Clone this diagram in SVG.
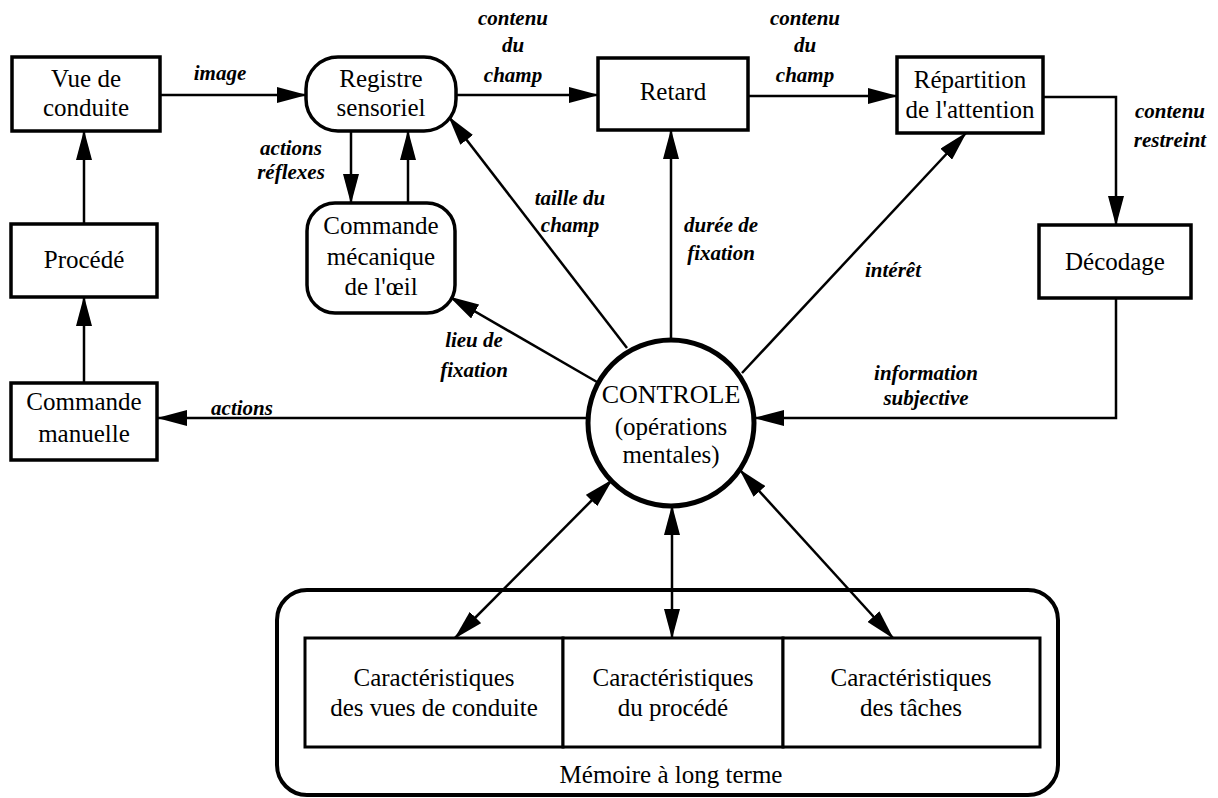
<svg xmlns="http://www.w3.org/2000/svg" width="1218" height="798" viewBox="0 0 1218 798" font-family="Liberation Serif, Tinos, DejaVu Serif, Times New Roman, Times, serif">
<style>
.box{fill:#fff;stroke:#000;stroke-width:3.5}
.t{font-size:25px;text-anchor:middle;fill:#000}
.l{font-size:21px;font-style:italic;font-weight:bold;text-anchor:middle;fill:#000}
.c{fill:none;stroke:#000;stroke-width:2.5}
</style>
<defs>
<marker id="ah" viewBox="0 0 30 16" refX="29" refY="8" markerWidth="30" markerHeight="16" markerUnits="userSpaceOnUse" orient="auto-start-reverse">
<path d="M0,0 L30,8 L0,16 z" fill="#000"/>
</marker>
</defs>
<rect width="1218" height="798" fill="#fff"/>
<g id="connectors">
<line class="c" x1="84" y1="224" x2="84" y2="131" marker-end="url(#ah)"/>
<line class="c" x1="84" y1="383" x2="84" y2="297" marker-end="url(#ah)"/>
<line class="c" x1="160" y1="95" x2="306" y2="95" marker-end="url(#ah)"/>
<line class="c" x1="351" y1="131" x2="351" y2="203" marker-end="url(#ah)"/>
<line class="c" x1="408" y1="203" x2="408" y2="131" marker-end="url(#ah)"/>
<line class="c" x1="456" y1="95" x2="598" y2="95" marker-end="url(#ah)"/>
<line class="c" x1="748" y1="96" x2="897" y2="96" marker-end="url(#ah)"/>
<path class="c" d="M1043,97 H1116 V225" marker-end="url(#ah)"/>
<path class="c" d="M1116,298 V418 H755" marker-end="url(#ah)"/>
<line class="c" x1="588" y1="418" x2="158" y2="418" marker-end="url(#ah)"/>
<line class="c" x1="597" y1="382" x2="450" y2="297" marker-end="url(#ah)"/>
<line class="c" x1="627" y1="348" x2="449" y2="117" marker-end="url(#ah)"/>
<line class="c" x1="671" y1="340" x2="671" y2="130" marker-end="url(#ah)"/>
<line class="c" x1="742" y1="373" x2="966" y2="133" marker-end="url(#ah)"/>
<line class="c" x1="612" y1="480" x2="455" y2="638" marker-start="url(#ah)" marker-end="url(#ah)"/>
<line class="c" x1="672" y1="506" x2="672" y2="638" marker-start="url(#ah)" marker-end="url(#ah)"/>
<line class="c" x1="740" y1="470" x2="893" y2="638" marker-start="url(#ah)" marker-end="url(#ah)"/>
<text class="l" x="220" y="80">image</text>
<text class="l" x="513" y="25">contenu</text>
<text class="l" x="513" y="52">du</text>
<text class="l" x="513" y="82">champ</text>
<text class="l" x="805" y="25">contenu</text>
<text class="l" x="805" y="52">du</text>
<text class="l" x="805" y="82">champ</text>
<text class="l" x="1170" y="118">contenu</text>
<text class="l" x="1170" y="147">restreint</text>
<text class="l" x="291" y="155">actions</text>
<text class="l" x="291" y="179">réflexes</text>
<text class="l" x="570" y="205">taille du</text>
<text class="l" x="570" y="232">champ</text>
<text class="l" x="721" y="232">durée de</text>
<text class="l" x="721" y="260">fixation</text>
<text class="l" x="893" y="277">intérêt</text>
<text class="l" x="474" y="347">lieu de</text>
<text class="l" x="474" y="377">fixation</text>
<text class="l" x="926" y="380">information</text>
<text class="l" x="926" y="405">subjective</text>
<text class="l" x="242" y="415">actions</text>
</g>
<g id="vue-de-conduite">
<rect class="box" x="12" y="57" width="148" height="74"/>
<text class="t" x="86" y="87">Vue de</text>
<text class="t" x="86" y="116">conduite</text>
</g>
<g id="registre-sensoriel">
<rect class="box" x="306" y="57" width="150" height="74" rx="32"/>
<text class="t" x="381" y="87">Registre</text>
<text class="t" x="381" y="116">sensoriel</text>
</g>
<g id="retard">
<rect class="box" x="598" y="58" width="150" height="72"/>
<text class="t" x="673" y="100">Retard</text>
</g>
<g id="repartition">
<rect class="box" x="897" y="57" width="146" height="76"/>
<text class="t" x="970" y="88">Répartition</text>
<text class="t" x="970" y="118">de l'attention</text>
</g>
<g id="decodage">
<rect class="box" x="1039" y="225" width="152" height="73"/>
<text class="t" x="1115" y="270">Décodage</text>
</g>
<g id="procede">
<rect class="box" x="11" y="224" width="146" height="73"/>
<text class="t" x="84" y="268">Procédé</text>
</g>
<g id="commande-manuelle">
<rect class="box" x="11" y="383" width="146" height="77"/>
<text class="t" x="84" y="410">Commande</text>
<text class="t" x="84" y="442">manuelle</text>
</g>
<g id="commande-mecanique">
<rect class="box" x="307" y="203" width="148" height="110" rx="28"/>
<text class="t" x="381" y="234">Commande</text>
<text class="t" x="381" y="265">mécanique</text>
<text class="t" x="381" y="295">de l'œil</text>
</g>
<g id="controle">
<circle cx="671" cy="423" r="83" fill="#fff" stroke="#000" stroke-width="5"/>
<text class="t" x="671" y="403" style="font-size:26px">CONTROLE</text>
<text class="t" x="671" y="435">(opérations</text>
<text class="t" x="671" y="463">mentales)</text>
</g>
<g id="memoire">
<rect x="277" y="590" width="781" height="205" rx="30" fill="none" stroke="#000" stroke-width="4"/>
<text class="t" x="671" y="783">Mémoire à long terme</text>
</g>
<g id="car-vues">
<rect class="box" x="305" y="638" width="258" height="109" style="stroke-width:3"/>
<text class="t" x="434" y="686">Caractéristiques</text>
<text class="t" x="434" y="716">des vues de conduite</text>
</g>
<g id="car-procede">
<rect class="box" x="563" y="638" width="220" height="109" style="stroke-width:3"/>
<text class="t" x="673" y="686">Caractéristiques</text>
<text class="t" x="673" y="716">du procédé</text>
</g>
<g id="car-taches">
<rect class="box" x="783" y="638" width="257" height="109" style="stroke-width:3"/>
<text class="t" x="911" y="686">Caractéristiques</text>
<text class="t" x="911" y="716">des tâches</text>
</g>
</svg>
